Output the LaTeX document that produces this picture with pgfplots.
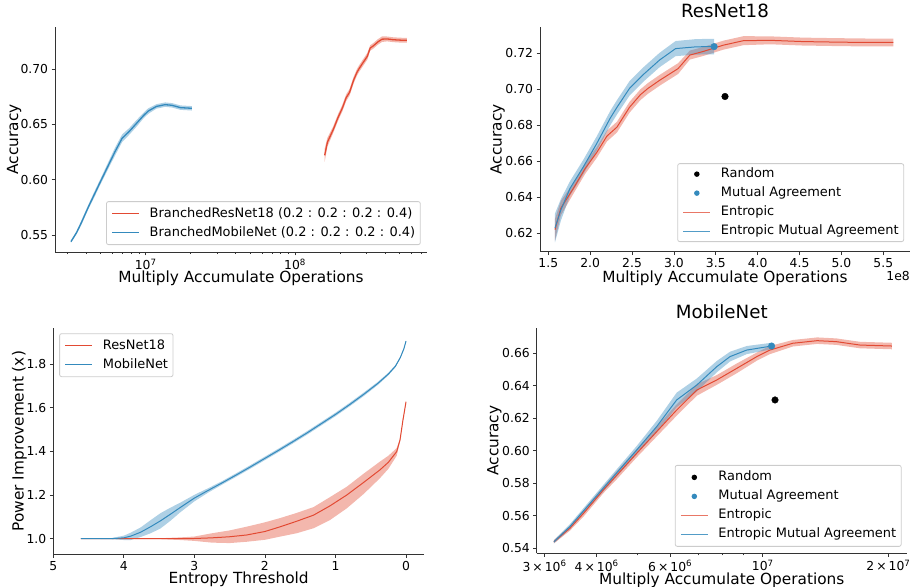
\documentclass[border=0pt]{standalone}
\usepackage{fontspec}
\setmainfont{DejaVu Sans}
\usepackage{pgfplots}
\pgfplotsset{compat=1.18}
\usepackage{pgfplotstable}
\definecolor{cred}{HTML}{E24A33}
\definecolor{cblue}{HTML}{348ABD}
\definecolor{spine}{HTML}{333333}

% ---------------- ResNet18 ----------------
\pgfplotstableread{
x y
1.58e8 0.6220
1.65e8 0.6340
1.80e8 0.6450
1.94e8 0.6560
2.08e8 0.6650
2.20e8 0.6740
2.32e8 0.6790
2.47e8 0.6900
2.60e8 0.6970
2.69e8 0.7005
2.83e8 0.7050
3.05e8 0.7115
3.19e8 0.7190
3.35e8 0.7210
3.59e8 0.7245
3.83e8 0.7270
4.15e8 0.7272
4.54e8 0.7265
4.94e8 0.7262
5.30e8 0.7260
5.62e8 0.7260
}\rnE
\pgfplotstableread{
x y
1.58e8 0.6280
1.65e8 0.6380
1.80e8 0.6480
1.94e8 0.6590
2.08e8 0.6680
2.20e8 0.6770
2.32e8 0.6820
2.47e8 0.6930
2.60e8 0.7000
2.69e8 0.7035
2.83e8 0.7080
3.05e8 0.7145
3.19e8 0.7215
3.35e8 0.7235
3.59e8 0.7270
3.83e8 0.7295
4.15e8 0.7294
4.54e8 0.7287
4.94e8 0.7284
5.30e8 0.7282
5.62e8 0.7282
5.62e8 0.7238
5.30e8 0.7238
4.94e8 0.7240
4.54e8 0.7243
4.15e8 0.7250
3.83e8 0.7245
3.59e8 0.7220
3.35e8 0.7185
3.19e8 0.7165
3.05e8 0.7085
2.83e8 0.7020
2.69e8 0.6975
2.60e8 0.6940
2.47e8 0.6870
2.32e8 0.6760
2.20e8 0.6710
2.08e8 0.6620
1.94e8 0.6530
1.80e8 0.6420
1.65e8 0.6300
1.58e8 0.6160
}\rnEband
\pgfplotstableread{
x y
1.58e8 0.6230
1.65e8 0.6330
1.76e8 0.6450
1.92e8 0.6570
2.08e8 0.6700
2.24e8 0.6840
2.32e8 0.6900
2.47e8 0.7005
2.63e8 0.7080
2.83e8 0.7163
3.02e8 0.7226
3.27e8 0.7236
3.48e8 0.7237
}\rnM
\pgfplotstableread{
x y
1.58e8 0.6310
1.65e8 0.6390
1.76e8 0.6490
1.92e8 0.6610
2.08e8 0.6740
2.24e8 0.6880
2.32e8 0.6940
2.47e8 0.7045
2.63e8 0.7120
2.83e8 0.7203
3.02e8 0.7268
3.27e8 0.7279
3.48e8 0.7280
3.48e8 0.7194
3.27e8 0.7193
3.02e8 0.7184
2.83e8 0.7123
2.63e8 0.7040
2.47e8 0.6965
2.32e8 0.6860
2.24e8 0.6800
2.08e8 0.6660
1.92e8 0.6530
1.76e8 0.6410
1.65e8 0.6270
1.58e8 0.6150
}\rnMband
% ---------------- MobileNet ----------------
\pgfplotstableread{
x y
3.16e6 0.5440
3.45e6 0.5523
3.72e6 0.5615
4.15e6 0.5759
4.47e6 0.5850
4.99e6 0.5985
5.57e6 0.6118
6.22e6 0.6251
6.95e6 0.6374
7.76e6 0.6436
8.67e6 0.6508
9.68e6 0.6580
1.04e7 0.6620
1.18e7 0.6662
1.35e7 0.6678
1.50e7 0.6672
1.71e7 0.6651
2.04e7 0.6645
}\mnE
\pgfplotstableread{
x y
3.16e6 0.5450
3.45e6 0.5538
3.72e6 0.5635
4.15e6 0.5779
4.47e6 0.5875
4.99e6 0.6010
5.57e6 0.6148
6.22e6 0.6286
6.95e6 0.6409
7.76e6 0.6466
8.67e6 0.6538
9.68e6 0.6605
1.04e7 0.6645
1.18e7 0.6682
1.35e7 0.6698
1.50e7 0.6692
1.71e7 0.6671
2.04e7 0.6665
2.04e7 0.6625
1.71e7 0.6631
1.50e7 0.6652
1.35e7 0.6658
1.18e7 0.6642
1.04e7 0.6595
9.68e6 0.6555
8.67e6 0.6478
7.76e6 0.6406
6.95e6 0.6339
6.22e6 0.6216
5.57e6 0.6088
4.99e6 0.5960
4.47e6 0.5825
4.15e6 0.5739
3.72e6 0.5595
3.45e6 0.5508
3.16e6 0.5430
}\mnEband
\pgfplotstableread{
x y
3.16e6 0.5440
3.45e6 0.5533
4.15e6 0.5770
4.99e6 0.6005
5.57e6 0.6149
6.22e6 0.6313
6.95e6 0.6405
7.76e6 0.6518
8.35e6 0.6580
9.15e6 0.6620
1.05e7 0.6645
}\mnM
\pgfplotstableread{
x y
3.16e6 0.5450
3.45e6 0.5548
4.15e6 0.5790
4.99e6 0.6030
5.57e6 0.6184
6.22e6 0.6358
6.95e6 0.6445
7.76e6 0.6553
8.35e6 0.6610
9.15e6 0.6645
1.05e7 0.6665
1.05e7 0.6625
9.15e6 0.6595
8.35e6 0.6550
7.76e6 0.6483
6.95e6 0.6365
6.22e6 0.6268
5.57e6 0.6114
4.99e6 0.5980
4.15e6 0.5750
3.45e6 0.5518
3.16e6 0.5430
}\mnMband
% ---------------- Power improvement ----------------
\pgfplotstableread{
x y
4.61 1.000
4.00 1.000
3.50 1.000
3.20 1.000
3.00 1.001
2.75 1.004
2.50 1.009
2.26 1.017
2.00 1.033
1.78 1.055
1.55 1.080
1.31 1.108
1.08 1.150
0.84 1.200
0.60 1.258
0.37 1.315
0.25 1.350
0.132 1.399
0.085 1.452
0.043 1.544
0.00 1.627
}\pwR
\pgfplotstableread{
x y
4.61 1.000
4.00 1.001
3.50 1.002
3.20 1.006
3.00 1.010
2.75 1.025
2.50 1.038
2.26 1.055
2.00 1.075
1.78 1.095
1.55 1.118
1.31 1.145
1.08 1.190
0.84 1.238
0.60 1.298
0.37 1.353
0.25 1.380
0.132 1.415
0.085 1.458
0.043 1.548
0.00 1.629
0.00 1.625
0.043 1.540
0.085 1.445
0.132 1.380
0.25 1.320
0.37 1.277
0.60 1.205
0.84 1.139
1.08 1.085
1.31 1.048
1.55 1.025
1.78 1.010
2.00 0.995
2.26 0.986
2.50 0.980
2.75 0.982
3.00 0.990
3.20 0.994
3.50 0.998
4.00 0.999
4.61 1.000
}\pwRband
\pgfplotstableread{
x y
4.61 1.000
4.19 1.000
4.00 1.004
3.90 1.012
3.76 1.030
3.62 1.055
3.48 1.082
3.34 1.112
3.20 1.143
3.00 1.186
2.80 1.222
2.60 1.257
2.40 1.293
2.20 1.330
2.00 1.368
1.80 1.406
1.60 1.445
1.40 1.485
1.20 1.527
1.00 1.569
0.80 1.614
0.60 1.661
0.40 1.711
0.25 1.754
0.15 1.790
0.08 1.830
0.03 1.870
0.00 1.905
}\pwB
\pgfplotstableread{
x y
4.61 1.000
4.19 1.002
4.00 1.014
3.90 1.028
3.76 1.052
3.62 1.085
3.48 1.117
3.34 1.142
3.20 1.165
3.00 1.201
2.80 1.232
2.60 1.265
2.40 1.301
2.20 1.338
2.00 1.376
1.80 1.414
1.60 1.453
1.40 1.493
1.20 1.535
1.00 1.577
0.80 1.622
0.60 1.669
0.40 1.718
0.25 1.760
0.15 1.795
0.08 1.834
0.03 1.873
0.00 1.907
0.00 1.903
0.03 1.867
0.08 1.826
0.15 1.785
0.25 1.748
0.40 1.704
0.60 1.653
0.80 1.606
1.00 1.561
1.20 1.519
1.40 1.477
1.60 1.437
1.80 1.398
2.00 1.360
2.20 1.322
2.40 1.285
2.60 1.249
2.80 1.212
3.00 1.171
3.20 1.121
3.34 1.082
3.48 1.047
3.62 1.025
3.76 1.008
3.90 0.994
4.00 0.994
4.19 0.998
4.61 1.000
}\pwBband

\pgfplotsset{
  common/.style={
    scale only axis,
    axis lines=left,
    axis line style={-, draw=spine, line width=0.9bp},
    tick align=outside,
    major tick length=3.5bp, minor tick length=2bp,
    tick style={draw=spine, line width=0.8bp},
    minor tick style={draw=spine, line width=0.6bp},
    tick label style={font=\fontsize{12.4}{14}\selectfont},
    /pgf/number format/assume math mode=true,
    label style={font=\fontsize{15.4}{18}\selectfont},
    title style={font=\fontsize{18.3}{21}\selectfont, anchor=base, at={(0.5,1)}, yshift=3.6bp},
    legend cell align=left,
    legend image code/.code={\draw[mark repeat=2,mark phase=2,##1] plot coordinates {(0bp,0bp) (13.5bp,0bp) (27bp,0bp)};},
    legend style={font=\fontsize{13}{15}\selectfont, draw=black!20, line width=0.8bp,
      rounded corners=2bp, fill=white, inner xsep=5bp, inner ysep=5.5bp,
      row sep=6bp, column sep=10bp,
      nodes={inner sep=0pt, text height=9.9bp, text depth=3.1bp}},
  },
  band/.style={draw=none, fill=#1, fill opacity=0.4, forget plot},
}

\begin{document}
\begin{tikzpicture}
\path[use as bounding box] (0,0) rectangle (924bp,587bp);

% ---------- Panel 1 ----------
\begin{axis}[common, at={(55bp,335bp)}, anchor=south west, width=372bp, height=225bp,
  xmode=log, xmin=2.47e6, xmax=7.66e8, ymin=0.5346, ymax=0.738,
  xtick={1e7,1e8}, xticklabels={10\textsuperscript{7},10\textsuperscript{8}},
  minor xtick={3e6,4e6,5e6,6e6,7e6,8e6,9e6,2e7,3e7,4e7,5e7,6e7,7e7,8e7,9e7,2e8,3e8,4e8,5e8,6e8,7e8},
  ytick={0.55,0.60,0.65,0.70},
  yticklabel style={/pgf/number format/.cd, fixed, fixed zerofill, precision=2},
  xlabel={Multiply Accumulate Operations}, ylabel={Accuracy},
  xlabel style={at={(axis description cs:0.5,-0.1364)}, anchor=base},
  ylabel style={at={(axis description cs:-0.0989,0.5)}, anchor=base},
  legend style={at={(0.983,0.031)}, anchor=south east},
]
\addplot[band=cred] table[x=x, y=y] {\rnEband};
\addplot[band=cblue] table[x=x, y=y] {\mnEband};
\addplot[cred, line width=1.3bp, forget plot] table[x=x, y=y] {\rnE};
\addplot[cblue, line width=1.3bp, forget plot] table[x=x, y=y] {\mnE};
\addlegendimage{cred, line width=1.2bp}
\addlegendentry{BranchedResNet18 (0.2 : 0.2 : 0.2 : 0.4)}
\addlegendimage{cblue, line width=1.2bp}
\addlegendentry{BranchedMobileNet (0.2 : 0.2 : 0.2 : 0.4)}
\end{axis}

% ---------- Panel 2 ----------
\begin{axis}[common, at={(540bp,335.3bp)}, anchor=south west, width=370bp, height=224.7bp,
  xmin=1.401e8, xmax=5.819e8, ymin=0.6098, ymax=0.7346,
  xtick={1.5e8,2.0e8,2.5e8,3.0e8,3.5e8,4.0e8,4.5e8,5.0e8,5.5e8},
  xticklabels={1.5,2.0,2.5,3.0,3.5,4.0,4.5,5.0,5.5},
  scaled x ticks=false,
  ytick={0.62,0.64,0.66,0.68,0.70,0.72},
  yticklabel style={/pgf/number format/.cd, fixed, fixed zerofill, precision=2},
  title={ResNet18},
  xlabel={Multiply Accumulate Operations}, ylabel={Accuracy},
  xlabel style={at={(axis description cs:0.5,-0.138)}, anchor=base},
  ylabel style={at={(axis description cs:-0.1038,0.5)}, anchor=base},
  legend style={at={(0.984,0.043)}, anchor=south east, inner ysep=4bp},
  after end axis/.code={\node[anchor=base east, font=\fontsize{12.4}{14}\selectfont, inner sep=0pt] at (axis description cs:1,-0.126) {1e8};},
]
\addplot[band=cred] table[x=x, y=y] {\rnEband};
\addplot[band=cblue] table[x=x, y=y] {\rnMband};
\addplot[cred, line width=1bp, forget plot] table[x=x, y=y] {\rnE};
\addplot[cblue, line width=1bp, forget plot] table[x=x, y=y] {\rnM};
\addplot[only marks, mark=*, mark size=3.3bp, black, forget plot] coordinates {(3.61e8,0.696)};
\addplot[only marks, mark=*, mark size=3.3bp, cblue, forget plot] coordinates {(3.48e8,0.7237)};
\addlegendimage{only marks, mark=*, mark size=2.3bp, black}
\addlegendentry{Random}
\addlegendimage{only marks, mark=*, mark size=2.3bp, cblue}
\addlegendentry{Mutual Agreement}
\addlegendimage{cred!75, line width=1.2bp}
\addlegendentry{Entropic}
\addlegendimage{cblue!85, line width=1.2bp}
\addlegendentry{Entropic Mutual Agreement}
\end{axis}

% ---------- Panel 3 ----------
\begin{axis}[common, at={(53.3bp,33bp)}, anchor=south west, width=370.7bp, height=225.7bp,
  x dir=reverse, xmin=-0.255, xmax=5.0, ymin=0.930, ymax=1.9635,
  xtick={0,1,2,3,4,5},
  ytick={1.0,1.2,1.4,1.6,1.8},
  yticklabel style={/pgf/number format/.cd, fixed, fixed zerofill, precision=1},
  xlabel={Entropy Threshold}, ylabel={Power Improvement (x)},
  xlabel style={at={(axis description cs:0.5,-0.1298)}, anchor=base},
  ylabel style={at={(axis description cs:-0.080,0.5)}, anchor=base},
  legend style={at={(0.016,0.978)}, anchor=north west},
]
\addplot[band=cred] table[x=x, y=y] {\pwRband};
\addplot[band=cblue] table[x=x, y=y] {\pwBband};
\addplot[cred, line width=1bp, forget plot] table[x=x, y=y] {\pwR};
\addplot[cblue, line width=1bp, forget plot] table[x=x, y=y] {\pwB};
\addlegendimage{cred, line width=1.2bp}
\addlegendentry{ResNet18}
\addlegendimage{cblue, line width=1.2bp}
\addlegendentry{MobileNet}
\end{axis}

% ---------- Panel 4 ----------
\begin{axis}[common, at={(536.7bp,33.7bp)}, anchor=south west, width=370bp, height=225.3bp,
  xmode=log, xmin=2.874e6, xmax=2.213e7, ymin=0.5369, ymax=0.6756,
  xtick={3e6,4e6,6e6,1e7,2e7},
  xticklabels={3\,×\,10\textsuperscript{6},4\,×\,10\textsuperscript{6},6\,×\,10\textsuperscript{6},10\textsuperscript{7},2\,×\,10\textsuperscript{7}},
  minor xtick={5e6,7e6,8e6,9e6},
  ytick={0.54,0.56,0.58,0.60,0.62,0.64,0.66},
  yticklabel style={/pgf/number format/.cd, fixed, fixed zerofill, precision=2},
  title={MobileNet},
  xlabel={Multiply Accumulate Operations}, ylabel={Accuracy},
  xlabel style={at={(axis description cs:0.5,-0.1363)}, anchor=base},
  ylabel style={at={(axis description cs:-0.104,0.5)}, anchor=base},
  legend style={at={(0.986,0.029)}, anchor=south east},
]
\addplot[band=cred] table[x=x, y=y] {\mnEband};
\addplot[band=cblue] table[x=x, y=y] {\mnMband};
\addplot[cred, line width=1bp, forget plot] table[x=x, y=y] {\mnE};
\addplot[cblue, line width=1bp, forget plot] table[x=x, y=y] {\mnM};
\addplot[only marks, mark=*, mark size=3.3bp, black, forget plot] coordinates {(1.07e7,0.6313)};
\addplot[only marks, mark=*, mark size=3.3bp, cblue, forget plot] coordinates {(1.05e7,0.6645)};
\addlegendimage{only marks, mark=*, mark size=2.3bp, black}
\addlegendentry{Random}
\addlegendimage{only marks, mark=*, mark size=2.3bp, cblue}
\addlegendentry{Mutual Agreement}
\addlegendimage{cred!75, line width=1.2bp}
\addlegendentry{Entropic}
\addlegendimage{cblue!85, line width=1.2bp}
\addlegendentry{Entropic Mutual Agreement}
\end{axis}
\end{tikzpicture}
\end{document}
